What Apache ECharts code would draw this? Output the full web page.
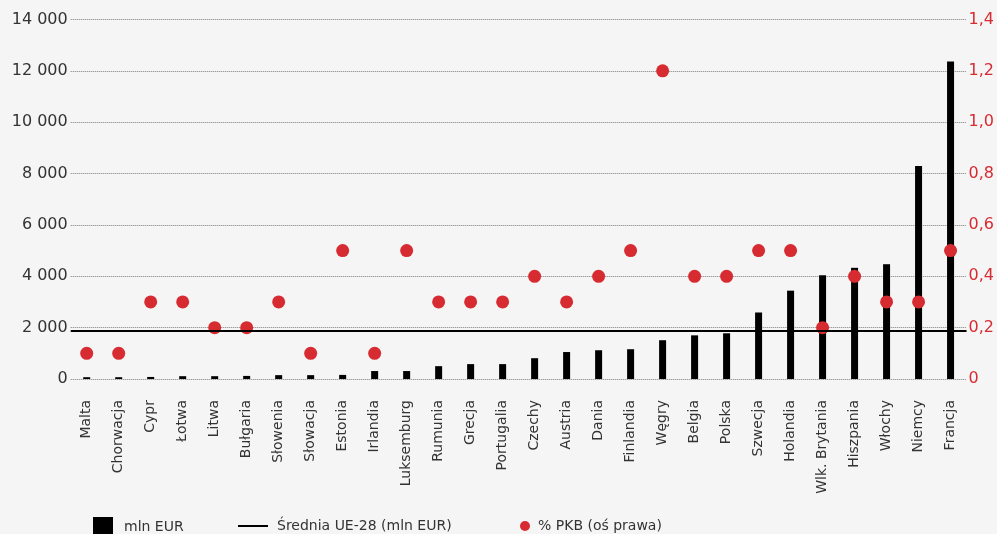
<!DOCTYPE html>
<html>
<head>
<meta charset="utf-8">
<script src="https://cdn.jsdelivr.net/npm/echarts@6/dist/echarts.min.js"></script>
<style>
  html, body { margin: 0; padding: 0; background: #f5f5f5; }
  #chart { width: 997px; height: 534px; }
</style>
</head>
<body>
<div id="chart"></div>
<script>
// Countries, sorted by spending
const countries = ['Malta', 'Chorwacja', 'Cypr', 'Łotwa', 'Litwa', 'Bułgaria', 'Słowenia', 'Słowacja',
  'Estonia', 'Irlandia', 'Luksemburg', 'Rumunia', 'Grecja', 'Portugalia', 'Czechy', 'Austria', 'Dania',
  'Finlandia', 'Węgry', 'Belgia', 'Polska', 'Szwecja', 'Holandia', 'Wlk. Brytania', 'Hiszpania',
  'Włochy', 'Niemcy', 'Francja'];

// Spending, mln EUR
const mlnEur = [70, 70, 80, 110, 110, 120, 150, 150, 160, 310, 310, 500, 580, 580, 810, 1050, 1120,
  1160, 1510, 1700, 1780, 2590, 3440, 4040, 4330, 4470, 8290, 12360];

// Spending, % of GDP (right axis)
const pctGdp = [0.1, 0.1, 0.3, 0.3, 0.2, 0.2, 0.3, 0.1, 0.5, 0.1, 0.5, 0.3, 0.3, 0.3, 0.4, 0.3, 0.4,
  0.5, 1.2, 0.4, 0.4, 0.5, 0.5, 0.2, 0.4, 0.3, 0.3, 0.5];

// EU-28 average, mln EUR
const euAverage = 1880;

// Axis ranges
const leftAxis = { min: 0, max: 14000, step: 2000 };
const rightAxis = { min: 0, max: 1.4, step: 0.2 };

const seriesNames = ['mln EUR', 'Średnia UE-28 (mln EUR)', '% PKB (oś prawa)'];

const RED = '#d72b32';
const TEXT = '#333333';
const numFont = "'DejaVu Sans', sans-serif";

const chart = echarts.init(document.getElementById('chart'), null, { renderer: 'canvas' });

function legendText(gap) {
  return { color: TEXT, fontSize: 14, fontFamily: numFont, padding: [1, 0, 0, gap] };
}

chart.setOption({
  backgroundColor: '#f5f5f5',
  animation: false,
  grid: { left: 70.7, right: 28.3, top: 19.5, bottom: 155 },
  legend: [
    { data: [seriesNames[0]], left: 93, top: 517, icon: 'rect', itemWidth: 20, itemHeight: 20,
      padding: 0, selectedMode: false, textStyle: legendText(6) },
    { data: [seriesNames[1]], left: 238, top: 519, icon: 'rect', itemWidth: 30, itemHeight: 2,
      padding: 0, selectedMode: false, textStyle: legendText(4) },
    { data: [seriesNames[2]], left: 520, top: 519, icon: 'circle', itemWidth: 10, itemHeight: 10,
      padding: 0, selectedMode: false, textStyle: legendText(3) }
  ],
  xAxis: {
    type: 'category',
    data: countries,
    axisLine: { show: false },
    axisTick: { show: false },
    axisLabel: {
      rotate: 90, interval: 0, margin: 21,
      color: TEXT, fontSize: 14, fontFamily: numFont
    }
  },
  yAxis: [
    {
      type: 'value', min: leftAxis.min, max: leftAxis.max, interval: leftAxis.step,
      axisLine: { show: false }, axisTick: { show: false },
      axisLabel: {
        margin: 3, color: TEXT, fontSize: 16, fontFamily: numFont,
        formatter: v => String(v).replace(/\B(?=(\d{3})+(?!\d))/g, ' ')
      },
      splitLine: { show: true, lineStyle: { color: '#7a7a7a', type: [1, 1], width: 1 } }
    },
    {
      type: 'value', min: rightAxis.min, max: rightAxis.max, interval: rightAxis.step,
      axisLine: { show: false }, axisTick: { show: false },
      axisLabel: {
        margin: 2, color: RED, fontSize: 16, fontFamily: numFont,
        formatter: v => v === 0 ? '0' : v.toFixed(1).replace('.', ',')
      },
      splitLine: { show: false }
    }
  ],
  series: [
    {
      name: seriesNames[0], type: 'bar', data: mlnEur, barWidth: 7,
      itemStyle: { color: '#000000' }, z: 2
    },
    {
      name: seriesNames[1], type: 'line', data: [], symbol: 'none',
      itemStyle: { color: '#000000' }, lineStyle: { color: '#000000' },
      markLine: {
        silent: true, symbol: ['none', 'none'], label: { show: false },
        lineStyle: { color: '#000000', width: 2, type: 'solid' },
        data: [{ yAxis: euAverage }]
      },
      z: 3
    },
    {
      name: seriesNames[2], type: 'scatter', yAxisIndex: 1, data: pctGdp, symbolSize: 13,
      itemStyle: { color: RED, opacity: 1 }, z: 4
    }
  ]
});
</script>
</body>
</html>
